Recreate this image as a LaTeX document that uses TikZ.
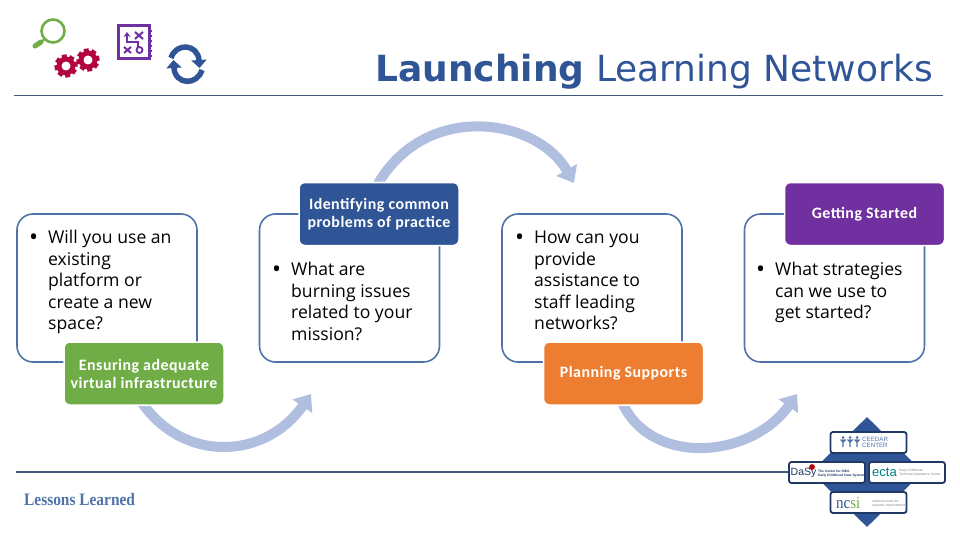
\documentclass[tikz,border=0pt]{standalone}
\usepackage{fontspec}
\setmainfont{Open Sans}
\newfontfamily\titlefont{DejaVu Sans}
\newfontfamily\labelfont[LetterSpace=3]{Carlito}
\newfontfamily\lessonfont[FakeStretch=0.88]{Liberation Serif}
\newfontfamily\logofont{Liberation Sans}
\usetikzlibrary{arrows.meta,shapes.geometric,backgrounds}
\definecolor{cardblue}{HTML}{4F72A8}
\definecolor{rulegrey}{HTML}{3E5A78}
\definecolor{flowblue}{HTML}{B0BEDF}
\definecolor{navyfill}{HTML}{2F5597}
\definecolor{greenfill}{HTML}{70AD47}
\definecolor{orangefill}{HTML}{ED7D31}
\definecolor{purplefill}{HTML}{7030A0}
\definecolor{gearred}{HTML}{B2043F}
\definecolor{logonavy}{HTML}{1F3864}
\tikzset{
  cardbox/.style={draw=cardblue,line width=1.6pt,rounded corners=16pt,minimum width=180pt,minimum height=148pt,inner sep=0pt},
  tagbox/.style={draw=white,line width=1.5pt,rounded corners=6pt,minimum width=160pt,minimum height=63pt,inner sep=0pt,text=white,align=center,font=\labelfont\bfseries\fontsize{15.9}{18}\selectfont},
  itemtext/.style={anchor=base west,inner sep=0pt,font=\fontsize{17.6}{21.5}\selectfont},
  flowarrow/.style={draw=flowblue,line width=10pt,shorten <=-5pt,-{Triangle[length=15pt,width=23pt]}},
  logobox/.style={draw=logonavy,fill=white,line width=1.8pt,rounded corners=2.5pt,minimum width=76pt,minimum height=21pt,inner sep=0pt,align=center},
  logotext/.style={anchor=west,inner sep=0pt,align=left,font=\logofont\fontsize{3.3}{4}\selectfont}
}
\newcommand{\bulletlines}[1]{\makebox[18pt][l]{\hspace*{-1pt}\raisebox{-1.5pt}{\fontsize{24}{21.5}\selectfont\textbullet}}\begin{tabular}[t]{@{}l@{}}#1\end{tabular}}
\begin{document}
\begin{tikzpicture}[x=1pt,y=-1pt]
  \useasboundingbox (0,0) rectangle (960,540);
  % rules
  \draw[rulegrey,line width=1pt] (14,96) -- (943,96);
  \draw[rulegrey,line width=2pt] (16,472) -- (792,472);
  \node[anchor=base east,inner sep=0pt,text=navyfill,font=\titlefont\fontsize{36}{40}\selectfont] (title) at (933,82) {\textbf{Launching} Learning Networks};
  \node[anchor=base west,inner sep=0pt,text=cardblue,font=\lessonfont\bfseries\fontsize{17.5}{20}\selectfont] (lessons) at (24,505) {Lessons Learned};
  % magnifier
  \draw[greenfill,line width=2.6pt] (53,31) circle (11.5);
  \draw[greenfill,line width=2pt] (45,39) -- (41,42);
  \draw[greenfill,line width=5pt,line cap=round] (41,42) -- (35,46);
  % gears
  \foreach \x/\y in {66/66,88/60} {
    \fill[gearred] (\x,\y) circle (9.5);
    \foreach \a in {0,45,...,315}
      \fill[gearred,shift={(\x,\y)},rotate=\a+10] (-2.5,-11.5) rectangle (2.5,-7);
    \fill[white] (\x,\y) circle (4.5);
  }
  % notebook
  \draw[purplefill,line width=3pt] (118.5,26) rectangle (149,59);
  \foreach \y in {31,36,...,56}
    \draw[purplefill,line width=1.2pt] (150,\y) -- (152,\y);
  \draw[purplefill,line width=2pt,-{Stealth[length=5pt,width=7pt]}] (138,47) -- (138,42) -- (127,42) -- (127,32);
  \draw[purplefill,line width=2pt] (135,32) -- (143,39) (143,32) -- (135,39);
  \draw[purplefill,line width=2pt] (124,47) -- (131,53) (131,47) -- (124,53);
  \draw[purplefill,line width=1.8pt] (139.5,50) circle (3);
  % sync arrows
  \draw[navyfill,line width=5.5pt,-{Triangle[length=8pt,width=15pt]}] (171,58) .. controls (176,42) and (198,44) .. (199.5,68);
  \draw[navyfill,line width=5.5pt,-{Triangle[length=8pt,width=15pt]}] (202,70) .. controls (197,86) and (175,85) .. (173.5,60);
  % cards
  \foreach \x/\n in {107/cardA,349.5/cardB,592/cardC,834.5/cardD}
    \node[cardbox] (\n) at (\x,288) {};
  \node[itemtext] (itemA) at (30,243.5) {\bulletlines{Will you use an\\existing\\platform or\\create a new\\space?}};
  \node[itemtext] (itemB) at (273,275.5) {\bulletlines{What are\\burning issues\\related to your\\mission?}};
  \node[itemtext] (itemC) at (516,243.5) {\bulletlines{How can you\\provide\\assistance to\\staff leading\\networks?}};
  \node[itemtext] (itemD) at (757,275.5) {\bulletlines{What strategies\\can we use to\\get started?}};
  % tags
  \node[tagbox,fill=greenfill] (tagA) at (144,373.5) {Ensuring adequate\\virtual infrastructure};
  \node[tagbox,fill=navyfill] (tagB) at (379,214) {Identifying common\\problems of practice};
  \node[tagbox,fill=orangefill] (tagC) at (623.5,373.5) {Planning Supports};
  \node[tagbox,fill=purplefill] (tagD) at (864.5,214) {Getting Started};
  % arrows run under the tags
  \coordinate (tipA) at (311,394);
  \coordinate (tipB) at (574,183);
  \coordinate (tipC) at (797,394);
  \begin{scope}[on background layer]
    \draw[flowarrow] (tagA.south) .. controls (183,463) and (265,460) .. (tipA);
    \draw[flowarrow] (tagB.north) .. controls (425,100) and (537,118) .. (tipB);
    \draw[flowarrow] (tagC.south) .. controls (650,467) and (751,459) .. (tipC);
  \end{scope}
  % partner logos
  \node[diamond,fill=navyfill,minimum width=112pt,minimum height=110pt,inner sep=0pt] (logoback) at (867,472) {};
  \node[logobox] (ceedar) at (868.5,442.5) {};
  \node[logobox] (dasy) at (827,472.5) {};
  \node[logobox] (ecta) at (907,472.5) {};
  \node[logobox] (ncsi) at (868.5,502.5) {};
  \foreach \x in {843,850,857} {
    \fill[cardblue] (\x,437.5) circle (1.5);
    \draw[cardblue,line width=1.4pt] (\x,439) -- (\x,447) (\x-2.5,439.5) -- (\x,442) -- (\x+2.5,439.5);
  }
  \node[logotext,text=cardblue,font=\logofont\fontsize{6.2}{6.5}\selectfont] (ceedarname) at (862,442) {CEEDAR\\[-0.5pt]CENTER};
  \node[anchor=west,inner sep=0pt,text=logonavy,font=\logofont\fontsize{10.5}{11}\selectfont] (dasyname) at (790.5,473) {DaSy};
  \node[star,star points=8,fill=red!70!black,minimum size=7pt,inner sep=0pt] (dasyflower) at (812,467) {};
  \node[logotext,text=logonavy] (dasysub) at (818,473.5) {\bfseries The Center for IDEA\\\bfseries Early Childhood Data Systems};
  \node[anchor=west,inner sep=0pt,text=teal,font=\logofont\fontsize{13}{13}\selectfont] (ectaname) at (872,472) {ecta};
  \node[logotext,text=gray] (ectasub) at (899,472.5) {Early Childhood\\Technical Assistance Center};
  \node[anchor=west,inner sep=0pt,text=navyfill,font=\lessonfont\fontsize{17}{17}\selectfont] (ncsiname) at (836,503) {nc\textcolor{greenfill}{si}};
  \node[logotext,text=gray] (ncsisub) at (872,504) {national center for\\systemic improvement};
\end{tikzpicture}
\end{document}
